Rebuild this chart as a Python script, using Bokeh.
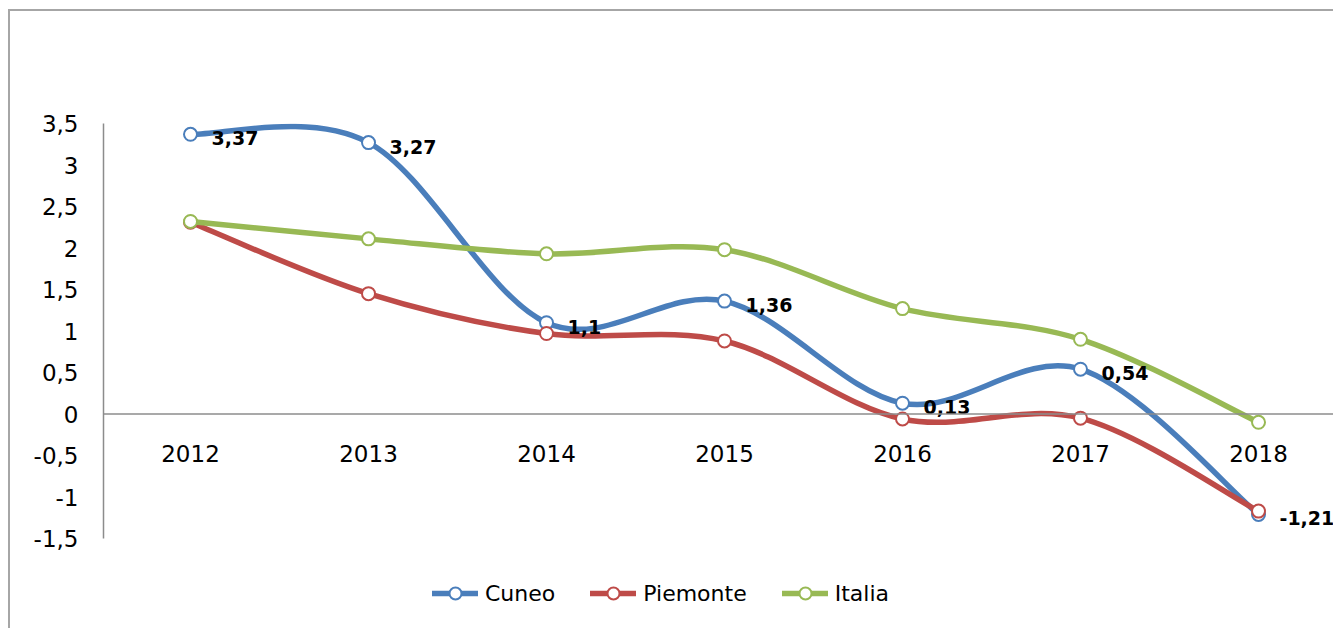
from bokeh.plotting import figure
from bokeh.models import (Range1d, LinearAxis, FixedTicker, Legend, LegendItem,
                          ColumnDataSource, Span)
from bokeh.core.properties import value
from bokeh.embed import file_html
from bokeh.resources import INLINE

years = [2012, 2013, 2014, 2015, 2016, 2017, 2018]
cuneo = [3.37, 3.27, 1.10, 1.36, 0.13, 0.54, -1.21]
piemonte = [2.31, 1.45, 0.97, 0.88, -0.06, -0.05, -1.17]
italia = [2.32, 2.11, 1.93, 1.98, 1.27, 0.90, -0.10]
cuneo_labels = [str(v).replace(".", ",") for v in cuneo]
y_ticks = [-1.5, -1, -0.5, 0, 0.5, 1, 1.5, 2, 2.5, 3, 3.5]
y_tick_labels = ["-1,5", "-1", "-0,5", "0", "0,5", "1", "1,5", "2", "2,5", "3", "3,5"]

FONT = "DejaVu Sans"
colors = {"Cuneo": "#4a7ebb", "Piemonte": "#be4b48", "Italia": "#98b954"}
AXIS_GREY = "#8c8c8c"

# frame: left 103, right 1333, top 123 (3.5), 83 px per unit, bottom at canvas edge
p = figure(width=1333, height=628, output_backend="svg", toolbar_location=None,
           x_axis_location=None, y_axis_location=None,
           x_range=Range1d(2011.5112, 2018.4213),
           y_range=Range1d(-1.5 - 90 / 83, 3.5),
           min_border_left=103, min_border_right=0, min_border_top=123,
           min_border_bottom=0)
p.grid.visible = False
p.outline_line_color = None
p.background_fill_color = None
p.border_fill_color = None
# outer chart-area border (left and top edges) drawn as the element background
p.styles = {
    "background": ("linear-gradient(#a6a6a6,#a6a6a6) 8px 9px / 2px 100% no-repeat, "
                   "linear-gradient(#a6a6a6,#a6a6a6) 8px 9px / 100% 2px no-repeat, "
                   "white")
}

yaxis = LinearAxis(ticker=FixedTicker(ticks=y_ticks), bounds=(-1.5, 3.5),
                   major_label_overrides={t: l for t, l in zip(y_ticks, y_tick_labels)})
yaxis.axis_line_color = AXIS_GREY
yaxis.axis_line_width = 1.5
yaxis.major_tick_out = 0
yaxis.major_tick_in = 0
yaxis.minor_tick_out = 0
yaxis.minor_tick_in = 0
yaxis.major_label_standoff = 25
yaxis.major_label_text_font = FONT
yaxis.major_label_text_font_size = "23px"
yaxis.major_label_text_color = "black"
p.add_layout(yaxis, "left")

# category labels: axis fixed just below the zero line, labels drawn upward to it
xaxis = LinearAxis(fixed_location=-0.578, ticker=FixedTicker(ticks=years),
                   major_label_overrides={y: str(y) for y in years})
xaxis.axis_line_color = None
xaxis.major_tick_out = 0
xaxis.major_tick_in = 0
xaxis.minor_tick_out = 0
xaxis.minor_tick_in = 0
xaxis.major_label_standoff = 0
xaxis.major_label_text_font = FONT
xaxis.major_label_text_font_size = "23px"
xaxis.major_label_text_color = "black"
p.add_layout(xaxis, "above")

# horizontal axis line at zero
p.add_layout(Span(location=0, dimension="width", line_color=AXIS_GREY, line_width=1.5))


def smooth_segments(xs, ys):
    n = len(xs)
    seg = dict(x0=[], y0=[], x1=[], y1=[], cx0=[], cy0=[], cx1=[], cy1=[])
    for i in range(n - 1):
        im1 = max(i - 1, 0)
        ip2 = min(i + 2, n - 1)
        seg["x0"].append(xs[i]); seg["y0"].append(ys[i])
        seg["x1"].append(xs[i + 1]); seg["y1"].append(ys[i + 1])
        seg["cx0"].append(xs[i] + (xs[i + 1] - xs[im1]) / 6)
        seg["cy0"].append(ys[i] + (ys[i + 1] - ys[im1]) / 6)
        seg["cx1"].append(xs[i + 1] - (xs[ip2] - xs[i]) / 6)
        seg["cy1"].append(ys[i + 1] - (ys[ip2] - ys[i]) / 6)
    return ColumnDataSource(seg)


items = []
for name, vals in [("Cuneo", cuneo), ("Piemonte", piemonte), ("Italia", italia)]:
    c = colors[name]
    br = p.bezier(x0="x0", y0="y0", x1="x1", y1="y1", cx0="cx0", cy0="cy0",
                  cx1="cx1", cy1="cy1", source=smooth_segments(years, vals),
                  line_color=c, line_width=5.5, line_cap="round")
    sr = p.scatter(years, vals, size=13, marker="circle", fill_color="white",
                   line_color=c, line_width=2)
    items.append(LegendItem(label=name, renderers=[br, sr]))

p.text(x=years, y=cuneo, text=cuneo_labels, x_offset=21, y_offset=4,
       text_font=value(FONT), text_font_size="19px", text_font_style="bold",
       text_color="black", text_align="left", text_baseline="middle")

legend = Legend(items=items, orientation="horizontal", location=(329, 20),
                glyph_width=46, glyph_height=30, label_standoff=7, spacing=35,
                padding=0, margin=0, border_line_color=None,
                background_fill_alpha=0, label_text_font=FONT,
                label_text_font_size="22px", label_text_color="black")
p.add_layout(legend, "center")

open("out.html", "w").write(file_html(p, INLINE))
